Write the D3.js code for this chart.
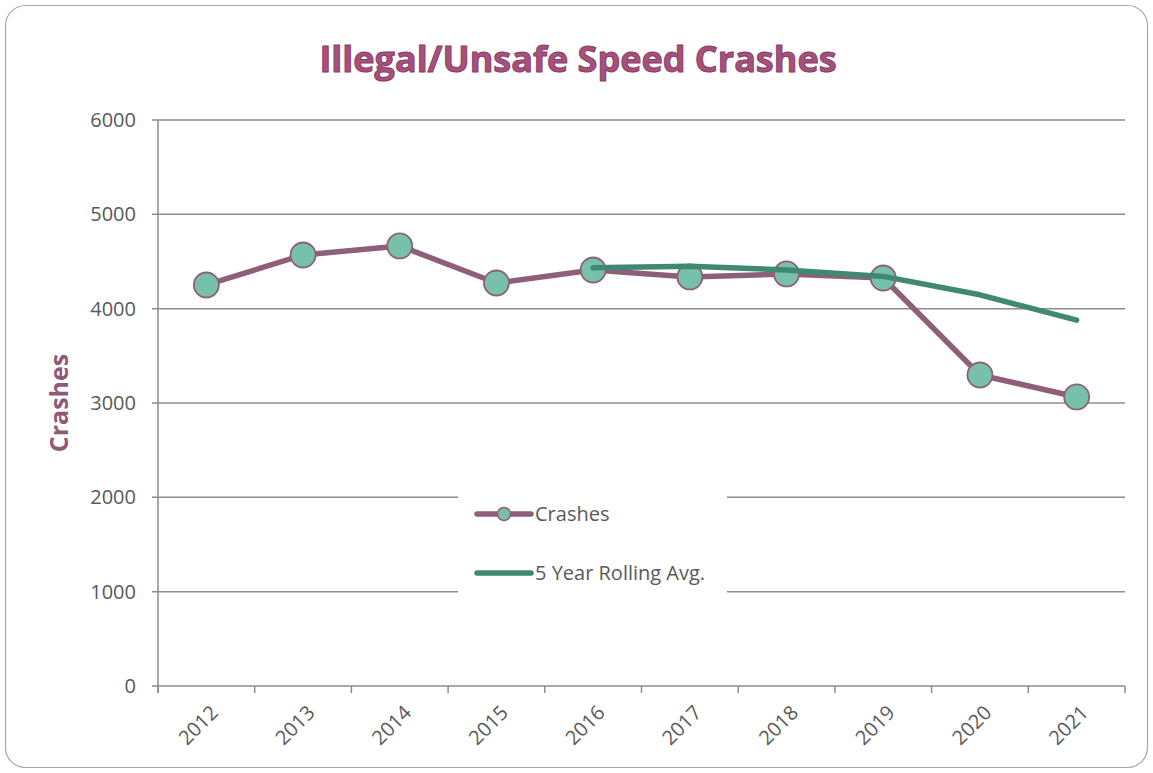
<!DOCTYPE html>
<html>
<head>
<meta charset="utf-8">
<script src="https://cdn.jsdelivr.net/npm/d3@7"></script>
<style>
  body { margin: 0; background: #fff; }
</style>
</head>
<body>
<script>
var width = 1153;
var height = 773;

var years = ["2012", "2013", "2014", "2015", "2016", "2017", "2018", "2019", "2020", "2021"];
var crashes = [4251, 4569, 4665, 4272, 4410, 4336, 4368, 4325, 3297, 3064];
var rollingYears = ["2016", "2017", "2018", "2019", "2020", "2021"];
var rollingAvg = [4433, 4450, 4410, 4342, 4147, 3878];
var yTicks = [0, 1000, 2000, 3000, 4000, 5000, 6000];

var margin = {left: 158, right: 28, top: 120, bottom: 87};

var svg = d3.select("body").append("svg")
  .attr("width", width)
  .attr("height", height);

// outer frame
svg.append("rect")
  .attr("x", 5.5).attr("y", 5.5)
  .attr("width", width - 11).attr("height", height - 11)
  .attr("rx", 20)
  .attr("fill", "#fff")
  .attr("stroke", "#a6a6a6")
  .attr("stroke-width", 1.2);

var x = d3.scaleBand()
  .domain(years)
  .range([margin.left, width - margin.right]);

var y = d3.scaleLinear()
  .domain([0, 6000])
  .range([height - margin.bottom, margin.top]);

// gridlines
svg.append("g")
  .selectAll("line")
  .data(yTicks)
  .enter().append("line")
    .attr("x1", margin.left - 6)
    .attr("x2", width - margin.right)
    .attr("y1", function(d) { return y(d); })
    .attr("y2", function(d) { return y(d); })
    .attr("stroke", "#8c8c8c")
    .attr("stroke-width", 1.5);

// y axis line
svg.append("line")
  .attr("x1", margin.left).attr("x2", margin.left)
  .attr("y1", y(6000)).attr("y2", y(0) + 7)
  .attr("stroke", "#8c8c8c").attr("stroke-width", 1.5);

// x ticks at band edges
var edges = years.map(function(d) { return x(d); }).concat([x.range()[1]]);
svg.append("g")
  .selectAll("line")
  .data(edges)
  .enter().append("line")
    .attr("x1", function(d) { return d; })
    .attr("x2", function(d) { return d; })
    .attr("y1", y(0))
    .attr("y2", y(0) + 7)
    .attr("stroke", "#8c8c8c")
    .attr("stroke-width", 1.5);

// y tick labels
svg.append("g")
  .selectAll("text")
  .data(yTicks)
  .enter().append("text")
    .attr("x", 136)
    .attr("y", function(d) { return y(d); })
    .attr("dy", "0.35em")
    .attr("text-anchor", "end")
    .attr("font-family", "Open Sans, sans-serif")
    .attr("font-size", "20px")
    .attr("fill", "#595959")
    .text(function(d) { return d; });

// x tick labels
svg.append("g")
  .selectAll("text")
  .data(years)
  .enter().append("text")
    .attr("transform", function(d) {
      return "translate(" + (x(d) + x.bandwidth() / 2 + 8) + "," + (y(0) + 23) + ") rotate(-45)";
    })
    .attr("text-anchor", "end")
    .attr("dy", "0.35em")
    .attr("font-family", "Open Sans, sans-serif")
    .attr("font-size", "20px")
    .attr("fill", "#595959")
    .text(function(d) { return d; });

// y axis title
svg.append("text")
  .attr("transform", "translate(68," + y(3000) + ") rotate(-90)")
  .attr("text-anchor", "middle")
  .attr("font-family", "Open Sans, sans-serif")
  .attr("font-weight", "bold")
  .attr("font-size", "25px")
  .attr("fill", "#8e5a78")
  .text("Crashes");

// chart title
svg.append("text")
  .attr("x", 578)
  .attr("y", 72)
  .attr("text-anchor", "middle")
  .attr("font-family", "Open Sans, sans-serif")
  .attr("font-weight", "bold")
  .attr("font-size", "36px")
  .attr("fill", "#a4527c")
  .attr("stroke", "#8b3a66")
  .attr("stroke-width", 1)
  .text("Illegal/Unsafe Speed Crashes");

// legend background (covers gridlines)
svg.append("rect")
  .attr("x", 458).attr("y", 490)
  .attr("width", 269).attr("height", 106)
  .attr("fill", "#fff");

var cx = function(d) { return x(d) + x.bandwidth() / 2; };

var crashData = years.map(function(d, i) { return {year: d, value: crashes[i]}; });
var rollData = rollingYears.map(function(d, i) { return {year: d, value: rollingAvg[i]}; });

var line = d3.line()
  .x(function(d) { return cx(d.year); })
  .y(function(d) { return y(d.value); });

// crashes line
svg.append("path")
  .datum(crashData)
  .attr("d", line)
  .attr("fill", "none")
  .attr("stroke", "#8e6078")
  .attr("stroke-width", 5.5)
  .attr("stroke-linejoin", "round");

svg.append("g")
  .selectAll("circle")
  .data(crashData)
  .enter().append("circle")
    .attr("cx", function(d) { return cx(d.year); })
    .attr("cy", function(d) { return y(d.value); })
    .attr("r", 12.5)
    .attr("fill", "#77c1ab")
    .attr("stroke", "#8e6078")
    .attr("stroke-width", 1.8);

// rolling average line
svg.append("path")
  .datum(rollData)
  .attr("d", line)
  .attr("fill", "none")
  .attr("stroke", "#3f8872")
  .attr("stroke-width", 5.5)
  .attr("stroke-linecap", "round")
  .attr("stroke-linejoin", "round");

// legend
var legend = svg.append("g");
legend.append("line")
  .attr("x1", 477).attr("x2", 531).attr("y1", 514).attr("y2", 514)
  .attr("stroke", "#8e6078").attr("stroke-width", 5.5).attr("stroke-linecap", "round");
legend.append("circle")
  .attr("cx", 504).attr("cy", 514).attr("r", 6.5)
  .attr("fill", "#77c1ab").attr("stroke", "#8e6078").attr("stroke-width", 1.5);
legend.append("text")
  .attr("x", 535).attr("y", 514).attr("dy", "0.35em")
  .attr("font-family", "Open Sans, sans-serif").attr("font-size", "20px")
  .attr("fill", "#595959").text("Crashes");
legend.append("line")
  .attr("x1", 477).attr("x2", 531).attr("y1", 573).attr("y2", 573)
  .attr("stroke", "#3f8872").attr("stroke-width", 5.5).attr("stroke-linecap", "round");
legend.append("text")
  .attr("x", 535).attr("y", 573).attr("dy", "0.35em")
  .attr("font-family", "Open Sans, sans-serif").attr("font-size", "20px")
  .attr("fill", "#595959").text("5 Year Rolling Avg.");
</script>
</body>
</html>
